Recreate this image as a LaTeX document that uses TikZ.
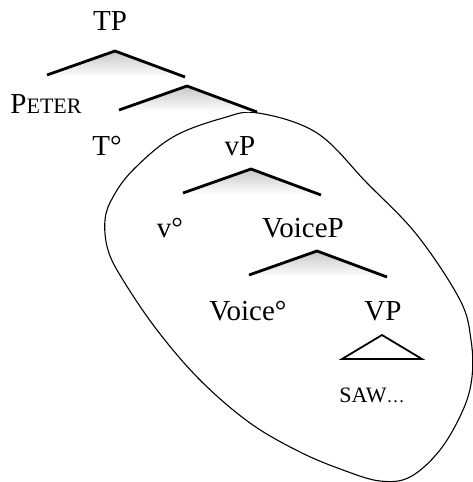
\documentclass[tikz,border=0pt]{standalone}
\usepackage{fontspec}
\setmainfont{Liberation Serif}
\usetikzlibrary{positioning}
\newcommand{\smcap}[1]{{\fontsize{22}{24}\selectfont #1}}
\tikzset{
 cat/.style={
 inner sep=0pt,
 anchor=base,
 font=\fontsize{29}{32}\selectfont
 },
 branchline/.style={line width=2.8pt, line cap=butt, line join=miter},
 roofline/.style={line width=1.8pt, line join=miter},
 phase/.style={line width=1.1pt},
 branch/.pic={
 \shade[top color=black!22, bottom color=white] (-68,24) -- (0,0) -- (70,26) -- cycle;
 \draw[branchline] (-68,24) -- (0,0) -- (70,26);
 }
}

\begin{document}
\begin{tikzpicture}[x=1pt, y=-1pt]
 \useasboundingbox (0,0) rectangle (472,482);

 % phase boundary
 \draw[phase] plot[smooth cycle, tension=0.6] coordinates {
 (258,113) (317,133) (367,183) (417,235) (460,300) (471,340) (472,377)
 (463,410) (440,450) (410,477) (380,481) (343,470) (300,452) (250,423)
 (200,380) (157,330) (123,280) (108,250) (105,220) (113,197) (133,170)
 (173,137) (223,118)};

 % branching points
 \coordinate (tp-b) at (115,51);
 \coordinate (tbar-b) at (187,86);
 \coordinate (vp-b) at (251,169);
 \coordinate (voicep-b) at (317,251);

 \pic at (tp-b) {branch};
 \pic at (tbar-b) {branch};
 \pic at (vp-b) {branch};
 \pic at (voicep-b) {branch};

 % labels
 \node[cat] (tp) at (110,30) {TP};
 \node[cat] (peter) at (46,113) {P\smcap{ETER}};
 \node[cat] (thead) at (107,155) {T°};
 \node[cat] (vp) at (240,155) {vP};
 \node[cat] (vhead) at (170,237) {v°};
 \node[cat] (voicep) at (303,237) {VoiceP};
 \node[cat] (voicehead) at (248,320) {Voice°};
 \node[cat] (vpl) at (383,320) {VP};
 \node[cat] (saw) at (372,402) {\smcap{SAW}{\fontsize{18}{20}\selectfont…}};

 % roof
 \coordinate (roof-l) at (342,359);
 \coordinate (roof-r) at (422,359);
 \coordinate (roof-t) at (382,335);
 \draw[roofline] (roof-l) -- (roof-t) -- (roof-r) -- cycle;
\end{tikzpicture}
\end{document}
